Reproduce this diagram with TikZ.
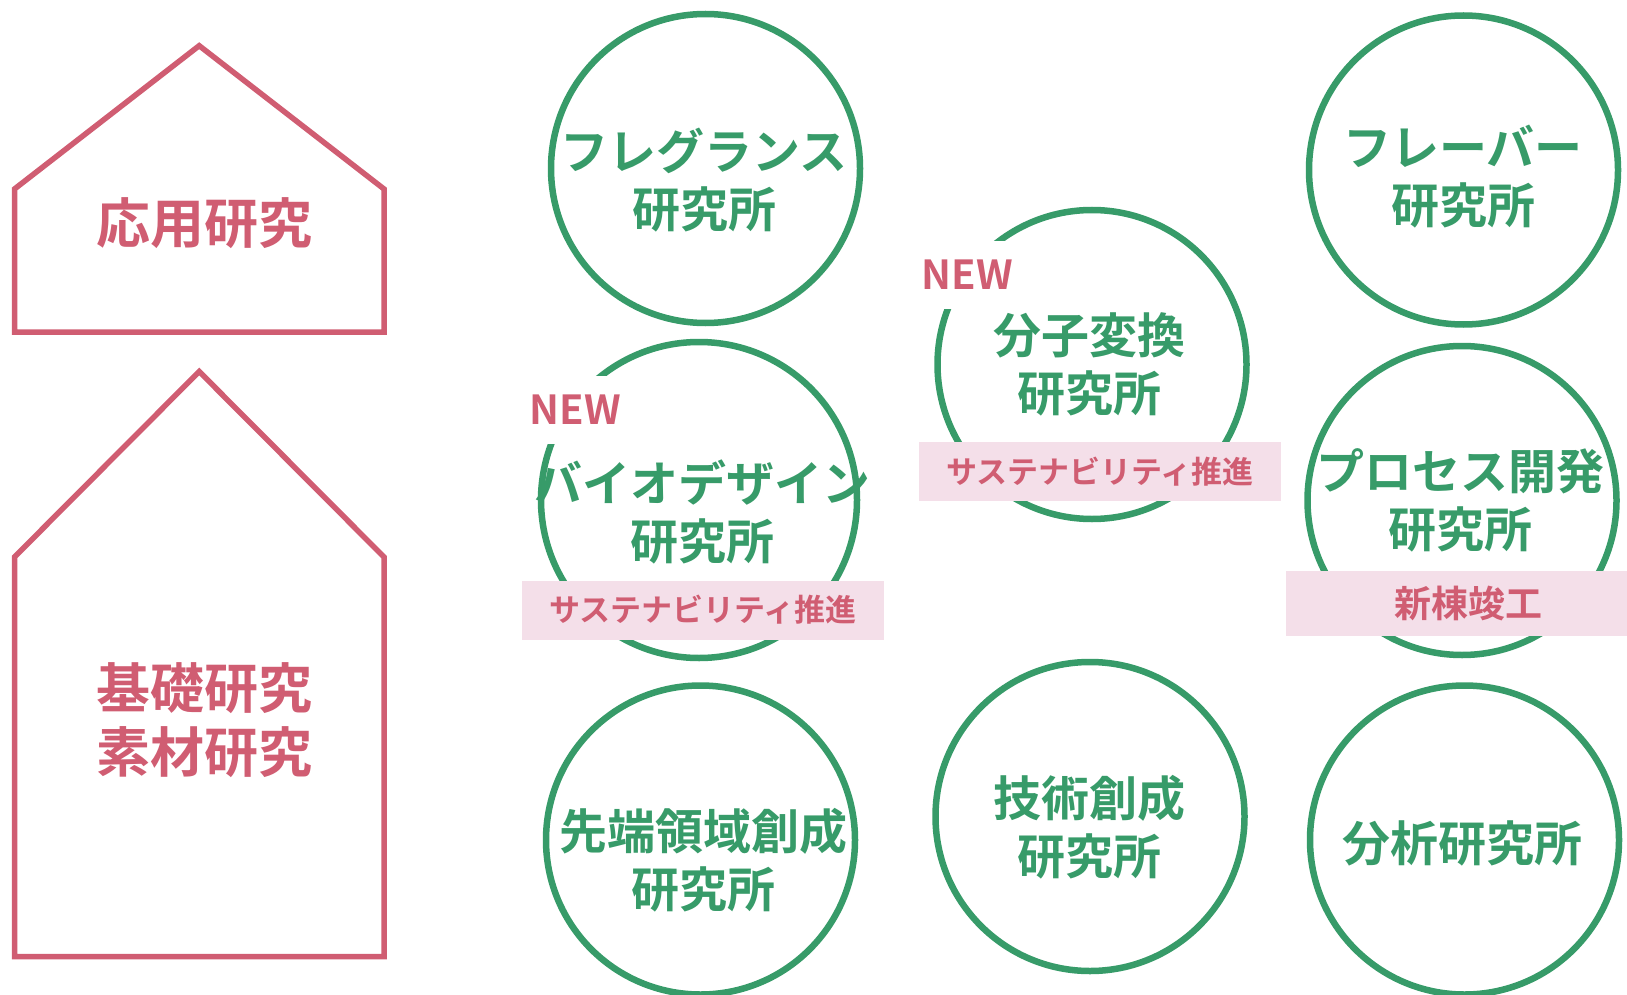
\documentclass[tikz,border=0pt]{standalone}
\usepackage{fontspec}
\setmainfont{Noto Sans CJK JP}[BoldFont=* Bold]
\definecolor{labgreen}{HTML}{379B69}
\definecolor{tagpink}{HTML}{D05D72}
\definecolor{tagfill}{HTML}{F4DFE9}

\begin{document}
\begin{tikzpicture}[x=1pt, y=-1pt,
    lab/.style={draw=labgreen, line width=6.5pt, circle, minimum size=309pt, inner sep=0pt},
    labname/.style={text=labgreen, font={\bfseries\fontsize{48}{58}\selectfont}, align=center, inner sep=0pt},
    house/.style={draw=tagpink, line width=5.5pt},
    housename/.style={text=tagpink, font={\bfseries\fontsize{54}{64}\selectfont}, align=center, inner sep=0pt},
    newmark/.style={fill=white, text=tagpink, font={\bfseries\fontsize{40}{40}\selectfont}, minimum height=68pt, inner xsep=10pt},
    tag/.style={fill=tagfill, text=tagpink, font={\bfseries\fontsize{31}{31}\selectfont}, minimum width=362pt, minimum height=59pt}]

    \useasboundingbox (0,0) rectangle (1627,995);

    % Houses on the left
    \draw[house] (14.5,332) -- (14.5,189) -- (199.2,45.7) -- (384,189) -- (384,332) -- cycle;
    \draw[house] (14.5,956.6) -- (14.5,557) -- (199.2,371.5) -- (384,557) -- (384,956.6) -- cycle;
    \node[housename] (applied) at (204,223.5) {応用研究};
    \node[housename] (basic) at (204,720) {基礎研究\\素材研究};

    % Laboratory circles
    \node[lab] (fragrance) at (705.5,168.5) {};
    \node[lab, minimum size=316pt] (biodesign) at (699,500) {};
    \node[lab] (molecular) at (1092,364.5) {};
    \node[lab] (flavor) at (1463.5,170) {};
    \node[lab] (process) at (1462,500.5) {};
    \node[lab] (frontier) at (700.5,840) {};
    \node[lab] (technology) at (1090,816.5) {};
    \node[lab] (analysis) at (1464.5,840) {};

    % Laboratory names
    \node[labname] (fragrancename) at (704,180) {フレグランス\\研究所};
    \node[labname] (biodesignname) at (702,511.5) {バイオデザイン\\研究所};
    \node[labname] (molecularname) at (1089,364) {分子変換\\研究所};
    \node[labname] (flavorname) at (1463,177) {フレーバー\\研究所};
    \node[labname] (processname) at (1460,500.5) {プロセス開発\\研究所};
    \node[labname] (frontiername) at (703,860.5) {先端領域創成\\研究所};
    \node[labname] (technologyname) at (1089,827) {技術創成\\研究所};
    \node[labname] (analysisname) at (1462.5,843.5) {分析研究所};

    % NEW marks and tags
    \node[newmark] (newbio) at (575.5,410) {NEW};
    \node[newmark] (newmol) at (967.5,275) {NEW};
    \node[tag] (tagbio) at (703,610) {サステナビリティ推進};
    \node[tag] (tagmol) at (1100,471.5) {サステナビリティ推進};
    \node[tag, minimum width=364pt, minimum height=65pt, font={\bfseries\fontsize{37}{37}\selectfont}] (tagproc) at (1468,603.5) {新棟竣工};

\end{tikzpicture}
\end{document}
